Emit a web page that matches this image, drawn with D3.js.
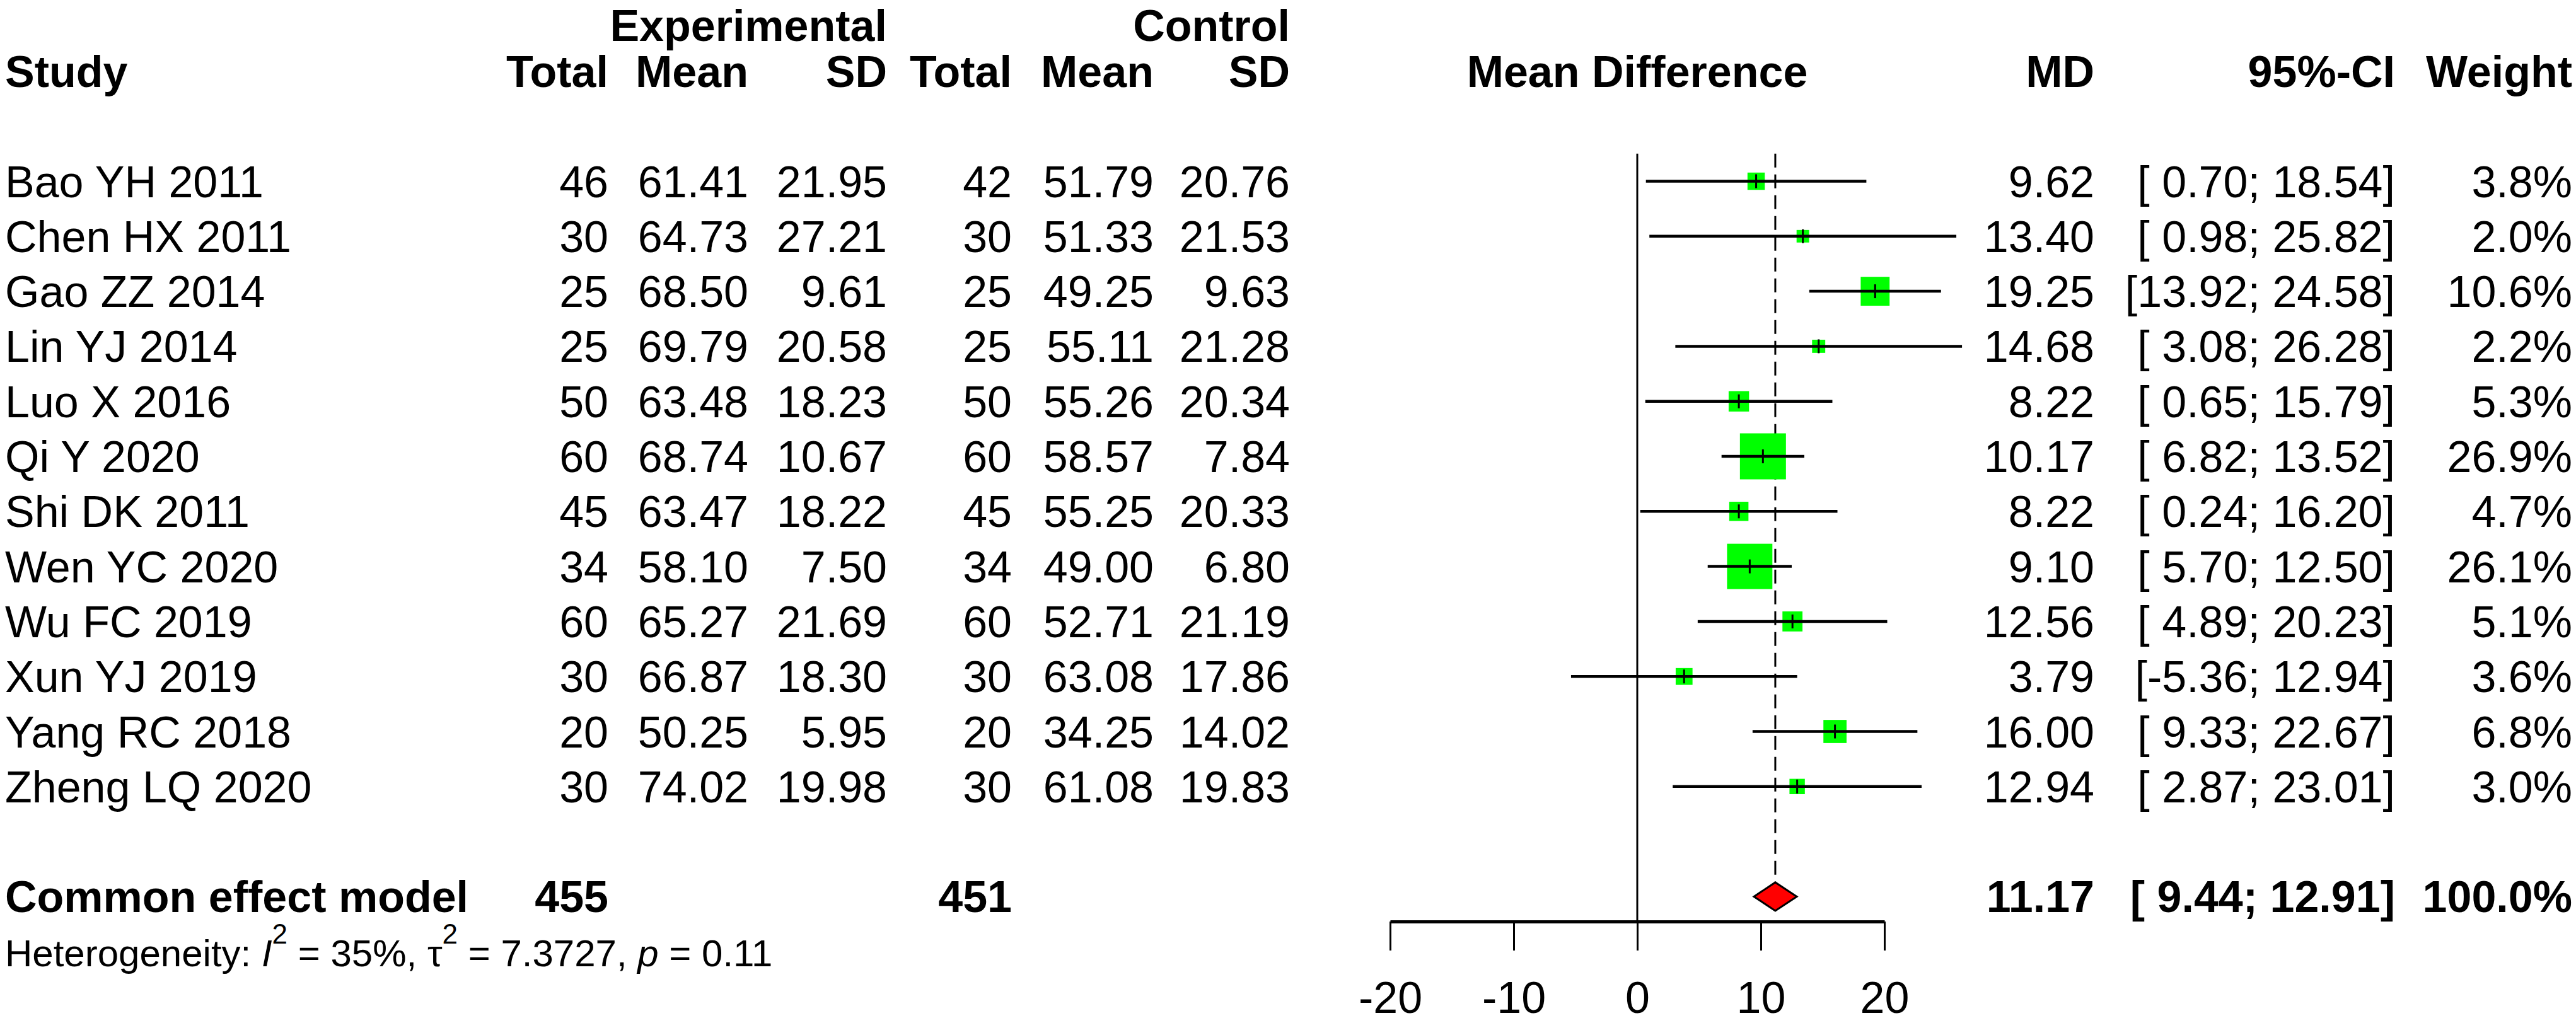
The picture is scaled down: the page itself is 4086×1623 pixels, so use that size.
<!DOCTYPE html>
<html>
<head>
<meta charset="utf-8">
<script src="https://cdn.jsdelivr.net/npm/d3@7"></script>
<style>
  body { margin: 0; background: #fff; }
  text { font-family: "Liberation Sans", Arial, Helvetica, sans-serif; fill: #000; }
</style>
</head>
<body>
<svg id="forest"></svg>
<script>
// study level data
const studies = ["Bao YH 2011", "Chen HX 2011", "Gao ZZ 2014", "Lin YJ 2014", "Luo X 2016", "Qi Y 2020",
    "Shi DK 2011", "Wen YC 2020", "Wu FC 2019", "Xun YJ 2019", "Yang RC 2018", "Zheng LQ 2020"];
const expTotal = [46, 30, 25, 25, 50, 60, 45, 34, 60, 30, 20, 30];
const expMean = [61.41, 64.73, 68.50, 69.79, 63.48, 68.74, 63.47, 58.10, 65.27, 66.87, 50.25, 74.02];
const expSD = [21.95, 27.21, 9.61, 20.58, 18.23, 10.67, 18.22, 7.50, 21.69, 18.30, 5.95, 19.98];
const ctrlTotal = [42, 30, 25, 25, 50, 60, 45, 34, 60, 30, 20, 30];
const ctrlMean = [51.79, 51.33, 49.25, 55.11, 55.26, 58.57, 55.25, 49.00, 52.71, 63.08, 34.25, 61.08];
const ctrlSD = [20.76, 21.53, 9.63, 21.28, 20.34, 7.84, 20.33, 6.80, 21.19, 17.86, 14.02, 19.83];
const md = [9.62, 13.40, 19.25, 14.68, 8.22, 10.17, 8.22, 9.10, 12.56, 3.79, 16.00, 12.94];
const ciLower = [0.70, 0.98, 13.92, 3.08, 0.65, 6.82, 0.24, 5.70, 4.89, -5.36, 9.33, 2.87];
const ciUpper = [18.54, 25.82, 24.58, 26.28, 15.79, 13.52, 16.20, 12.50, 20.23, 12.94, 22.67, 23.01];
const weights = [3.8, 2.0, 10.6, 2.2, 5.3, 26.9, 4.7, 26.1, 5.1, 3.6, 6.8, 3.0];

// pooled result
const pooledLabel = "Common effect model";
const pooledTotals = [455, 451];
const pooledMD = 11.17;
const pooledCI = [9.44, 12.91];
const pooledWeight = 100.0;
const hetI2 = "35%";
const hetTau2 = "7.3727";
const hetP = "0.11";

const xTicks = [-20, -10, 0, 10, 20];

const width = 4086;
const height = 1623;
const fontSize = 70;

const svg = d3.select('#forest')
    .attr('width', width)
    .attr('height', height);

svg.append('rect').attr('width', width).attr('height', height).attr('fill', '#fff');

// row positions (row index -> pixel y of row centre)
const yRow = d3.scaleLinear().domain([0, 1]).range([287.5, 374.8]);
const baseOff = 25; // baseline offset for text centred on a row

// x scale for the effect plot
const x = d3.scaleLinear().domain([-20, 20]).range([2205, 2989]);

// square size ~ sqrt(weight)
const sq = d3.scaleSqrt().domain([0, 26.9]).range([0, 73]);

const f2 = d3.format('.2f');
const f1 = d3.format('.1f');

function pad(s, n) {
    while (s.length < n) s = ' ' + s;
    return s;
}
function ciText(lo, hi) {
    return '[' + pad(f2(lo).replace('−', '-'), 5) + '; ' + pad(f2(hi), 5) + ']';
}

// column right edges
const cols = {
    expTotal: 965, expMean: 1187, expSD: 1407,
    ctrlTotal: 1605, ctrlMean: 1830, ctrlSD: 2046,
    md: 3322, ci: 3799, weight: 4080
};
const studyX = 8;

function addText(txt, xPos, row, anchor, bold, yShift) {
    svg.append('text')
        .attr('x', xPos)
        .attr('y', yRow(row) + baseOff + (yShift || 0))
        .attr('text-anchor', anchor)
        .attr('font-size', fontSize)
        .attr('font-weight', bold ? 'bold' : 'normal')
        .style('white-space', 'pre')
        .attr('xml:space', 'preserve')
        .text(txt);
}

// headers (top line nudged down a little so it is not clipped)
addText('Experimental', cols.expSD, -3, 'end', true, 14);
addText('Control', cols.ctrlSD, -3, 'end', true, 14);
addText('Study', studyX, -2, 'start', true);
addText('Total', cols.expTotal, -2, 'end', true);
addText('Mean', cols.expMean, -2, 'end', true);
addText('SD', cols.expSD, -2, 'end', true);
addText('Total', cols.ctrlTotal, -2, 'end', true);
addText('Mean', cols.ctrlMean, -2, 'end', true);
addText('SD', cols.ctrlSD, -2, 'end', true);
addText('Mean Difference', x(0), -2, 'middle', true);
addText('MD', cols.md, -2, 'end', true);
addText('95%-CI', cols.ci, -2, 'end', true);
addText('Weight', cols.weight, -2, 'end', true);

// study rows
studies.forEach((s, i) => {
    addText(s, studyX, i, 'start', false);
    addText(String(expTotal[i]), cols.expTotal, i, 'end', false);
    addText(f2(expMean[i]), cols.expMean, i, 'end', false);
    addText(f2(expSD[i]), cols.expSD, i, 'end', false);
    addText(String(ctrlTotal[i]), cols.ctrlTotal, i, 'end', false);
    addText(f2(ctrlMean[i]), cols.ctrlMean, i, 'end', false);
    addText(f2(ctrlSD[i]), cols.ctrlSD, i, 'end', false);
    addText(f2(md[i]), cols.md, i, 'end', false);
    addText(ciText(ciLower[i], ciUpper[i]), cols.ci, i, 'end', false);
    addText(f1(weights[i]) + '%', cols.weight, i, 'end', false);
});

// pooled row
const pRow = studies.length + 1;
addText(pooledLabel, studyX, pRow, 'start', true);
addText(String(pooledTotals[0]), cols.expTotal, pRow, 'end', true);
addText(String(pooledTotals[1]), cols.ctrlTotal, pRow, 'end', true);
addText(f2(pooledMD), cols.md, pRow, 'end', true);
addText(ciText(pooledCI[0], pooledCI[1]), cols.ci, pRow, 'end', true);
addText(f1(pooledWeight) + '%', cols.weight, pRow, 'end', true);

// heterogeneity line
const het = svg.append('text')
    .attr('x', studyX)
    .attr('y', yRow(pRow + 1) + 23)
    .attr('font-size', 60)
    .attr('xml:space', 'preserve');
het.append('tspan').text('Heterogeneity: ');
het.append('tspan').attr('font-style', 'italic').text('I');
het.append('tspan').attr('font-size', 44).attr('dy', -36).text('2');
het.append('tspan').attr('dy', 36).text(' = ' + hetI2 + ', ');
het.append('tspan').text('τ');
het.append('tspan').attr('font-size', 44).attr('dy', -36).text('2');
het.append('tspan').attr('dy', 36).text(' = ' + hetTau2 + ', ');
het.append('tspan').attr('font-style', 'italic').text('p');
het.append('tspan').text(' = ' + hetP);

// reference lines
const topY = yRow(-0.5);
const axisY = 1462;
const diamondH = 22.5;

svg.append('line')
    .attr('x1', x(0)).attr('x2', x(0))
    .attr('y1', topY).attr('y2', axisY)
    .attr('stroke', '#000').attr('stroke-width', 3);

svg.append('line')
    .attr('x1', x(pooledMD)).attr('x2', x(pooledMD))
    .attr('y1', topY).attr('y2', yRow(pRow) - diamondH)
    .attr('stroke', '#000').attr('stroke-width', 3)
    .attr('stroke-dasharray', '22,11');

// CI lines, squares and centre ticks
const g = svg.append('g');
studies.forEach((s, i) => {
    const cy = yRow(i);
    const side = sq(weights[i]);
    g.append('rect')
        .attr('x', x(md[i]) - side / 2)
        .attr('y', cy - side / 2)
        .attr('width', side)
        .attr('height', side)
        .attr('fill', '#00ff00');
    g.append('line')
        .attr('x1', x(ciLower[i])).attr('x2', x(ciUpper[i]))
        .attr('y1', cy).attr('y2', cy)
        .attr('stroke', '#000').attr('stroke-width', 4.5);
    g.append('line')
        .attr('x1', x(md[i])).attr('x2', x(md[i]))
        .attr('y1', cy - 11).attr('y2', cy + 11)
        .attr('stroke', '#000').attr('stroke-width', 3);
});

// pooled diamond
const pc = yRow(pRow);
svg.append('path')
    .attr('d', `M${x(pooledCI[0])},${pc} L${x(pooledMD)},${pc - diamondH} L${x(pooledCI[1])},${pc} L${x(pooledMD)},${pc + diamondH} Z`)
    .attr('fill', '#ff0000')
    .attr('stroke', '#000')
    .attr('stroke-width', 3);

// x axis
const xAxis = d3.axisBottom(x)
    .tickValues(xTicks)
    .tickFormat(d => String(d))
    .tickSizeInner(46)
    .tickSizeOuter(0);

const ax = svg.append('g')
    .attr('transform', `translate(0, ${axisY})`)
    .call(xAxis);
ax.select('.domain').attr('stroke', '#000').attr('stroke-width', 5);
ax.selectAll('.tick line').attr('stroke', '#000').attr('stroke-width', 3);
ax.selectAll('.tick text')
    .attr('y', 145)
    .attr('dy', null)
    .attr('font-size', fontSize)
    .attr('font-family', '"Liberation Sans", Arial, sans-serif')
    .attr('fill', '#000');
</script>
</body>
</html>
